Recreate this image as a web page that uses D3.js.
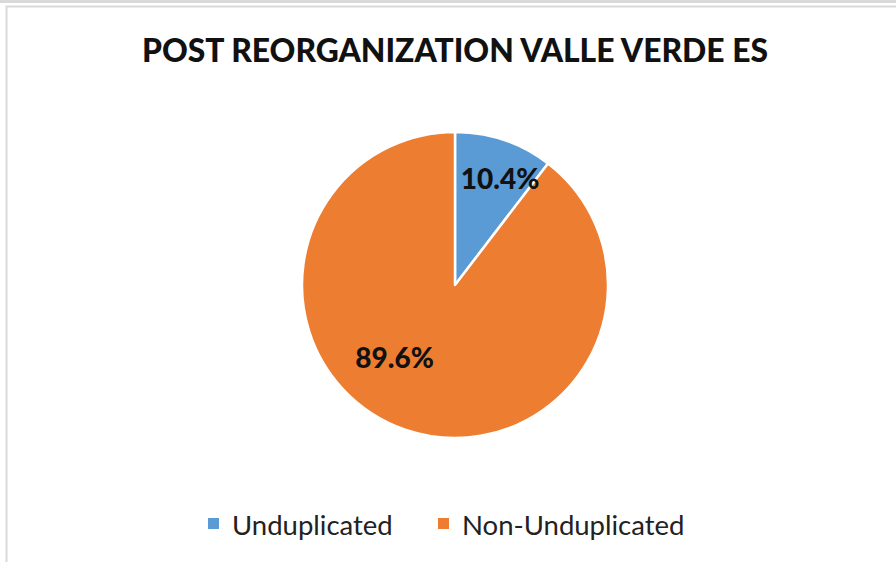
<!DOCTYPE html>
<html><head><meta charset="utf-8">
<script src="https://cdn.jsdelivr.net/npm/d3@7"></script>
<style>html,body{margin:0;padding:0;background:#fff;}svg{display:block;}</style>
</head><body>
<script>
const title = "POST REORGANIZATION VALLE VERDE ES";
const categories = ["Unduplicated", "Non-Unduplicated"];
const values = [10.4, 89.6];
const labels = ["10.4%", "89.6%"];
const colors = ["#5B9BD5", "#ED7D31"];

const W = 896, H = 562;
const svg = d3.select("body").append("svg").attr("width", W).attr("height", H);

// frame
svg.append("rect").attr("x", 0).attr("y", 0).attr("width", W).attr("height", 3).attr("fill", "#d9d9d9");
svg.append("rect").attr("x", 6.5).attr("y", 6.5).attr("width", W + 10).attr("height", H + 10)
  .attr("fill", "none").attr("stroke", "#d9d9d9").attr("stroke-width", 2);

svg.append("text").attr("x", 455).attr("y", 62).attr("text-anchor", "middle")
  .attr("font-family", "Lato, 'Open Sans', sans-serif").attr("font-weight", "900")
  .attr("font-size", 32).attr("textLength", 626).attr("lengthAdjust", "spacingAndGlyphs")
  .attr("fill", "#111").text(title);

const cx = 455, cy = 285, R = 153;
const pie = d3.pie().sort(null).value(d => d)(values);
const arc = d3.arc().innerRadius(0).outerRadius(R);
const g = svg.append("g").attr("transform", `translate(${cx},${cy})`);
g.selectAll("path").data(pie).join("path")
  .attr("d", arc).attr("fill", (d, i) => colors[i])
  .attr("stroke", "#fff").attr("stroke-width", 2.5).attr("stroke-linejoin", "round");

// label placement (fraction of slice angle, radius)
const place = [[0.61, 116], [0.566, 94]];
g.selectAll("text.lbl").data(pie).join("text").attr("class", "lbl")
  .each(function (d, i) {
    const a = d.startAngle + (d.endAngle - d.startAngle) * place[i][0];
    const r = place[i][1];
    d3.select(this).attr("x", r * Math.sin(a)).attr("y", -r * Math.cos(a));
  })
  .attr("text-anchor", "middle").attr("dominant-baseline", "central")
  .attr("font-family", "Lato, 'Open Sans', sans-serif").attr("font-weight", "900")
  .attr("font-size", 28).attr("fill", "#111")
  .text((d, i) => labels[i]);

// legend
const legX = [208, 438];
const lg = svg.append("g");
categories.forEach((c, i) => {
  lg.append("rect").attr("x", legX[i]).attr("y", 518).attr("width", 11).attr("height", 11).attr("fill", colors[i]);
  lg.append("text").attr("x", legX[i] + 24).attr("y", 524).attr("dominant-baseline", "central")
    .attr("font-family", "Lato, 'Open Sans', sans-serif").attr("font-size", 27.5).attr("fill", "#222").text(c);
});
</script>
</body></html>
